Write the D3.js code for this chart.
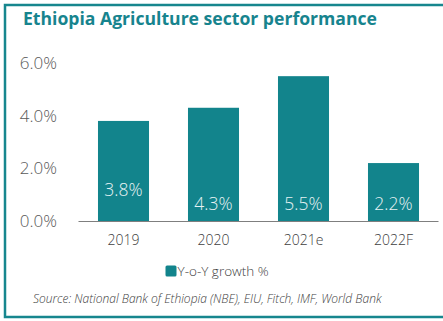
<!DOCTYPE html>
<html><head><meta charset="utf-8">
<script src="https://cdn.jsdelivr.net/npm/d3@7"></script>
<style>
html,body{margin:0;padding:0;background:#fff;}
svg{display:block;font-family:"Open Sans",sans-serif;}
</style></head>
<body>
<script>
const categories = ["2019", "2020", "2021e", "2022F"];
const values = [3.8, 4.3, 5.5, 2.2];
const valueLabels = ["3.8%", "4.3%", "5.5%", "2.2%"];
const yTicks = [0, 2, 4, 6];
const title = "Ethiopia Agriculture sector performance";
const seriesName = "Y-o-Y growth %";
const source = "Source: National Bank of Ethiopia (NBE), EIU, Fitch, IMF, World Bank";

const W = 443, H = 321;
const teal = "#12848c";
const svg = d3.select("body").append("svg").attr("width", W).attr("height", H);

// frame
svg.append("path")
  .attr("d", `M${W},5 H5 V317 H${W}`)
  .attr("fill", "none").attr("stroke", "#17868e").attr("stroke-width", 2.5);

svg.append("text").attr("x", 23).attr("y", 25)
  .attr("fill", "#17848e").attr("font-weight", 700).attr("font-size", 17.6)
  .text(title);

const x = d3.scaleBand().domain(categories).range([78.5, 438.5]).paddingInner(0.433).paddingOuter(0.2165);
const y = d3.scaleLinear().domain([0, 6]).range([221, 63]);

// y axis labels
const yAxis = d3.axisLeft(y).tickValues(yTicks).tickFormat(d => d3.format(".1f")(d) + "%").tickSize(0).tickPadding(0);
const gy = svg.append("g").attr("transform", "translate(57,0)").call(yAxis);
gy.select(".domain").remove();
gy.selectAll("text").attr("fill", "#595959").attr("font-size", 17).attr("font-weight", 300).attr("font-family", "Open Sans").attr("dy", "0.32em");

// bars
svg.append("g").selectAll("rect").data(values).join("rect")
  .attr("x", (d, i) => x(categories[i]))
  .attr("y", d => y(d))
  .attr("width", x.bandwidth())
  .attr("height", d => y(0) - y(d))
  .attr("fill", teal);

// x axis
const xAxis = d3.axisBottom(x).tickSize(0).tickPadding(0);
const gx = svg.append("g").attr("transform", `translate(0,${y(0)})`).call(xAxis);
gx.select(".domain").attr("stroke", "#7f7f7f").attr("stroke-width", 1).attr("d", `M78.5,0.5H438.5`);
gx.selectAll("text").attr("fill", "#404040").attr("font-size", 14).attr("font-weight", 300).attr("font-family", "Open Sans").attr("dy", "0").attr("y", 24);

// value labels
const labelY = [190, 204, 204, 204];
svg.append("g").selectAll("text").data(values).join("text")
  .attr("x", (d, i) => x(categories[i]) + x.bandwidth() / 2)
  .attr("y", (d, i) => labelY[i])
  .attr("dy", "0.35em")
  .attr("text-anchor", "middle")
  .attr("fill", "#e6f2f3").attr("font-size", 17.5).attr("font-weight", 300)
  .text((d, i) => valueLabels[i]);

// legend
svg.append("rect").attr("x", 165.5).attr("y", 265.5).attr("width", 11).attr("height", 11).attr("rx", 1.5).attr("fill", teal);
svg.append("text").attr("x", 177.5).attr("y", 271).attr("dy", "0.35em")
  .attr("fill", "#404040").attr("font-size", 13.5).attr("font-weight", 300).text(seriesName);

// source
svg.append("text").attr("x", 33).attr("y", 299).attr("dy", "0.35em")
  .attr("fill", "#404040").attr("font-size", 12).attr("font-weight", 300).attr("font-style", "italic").text(source);
</script>
</body></html>
